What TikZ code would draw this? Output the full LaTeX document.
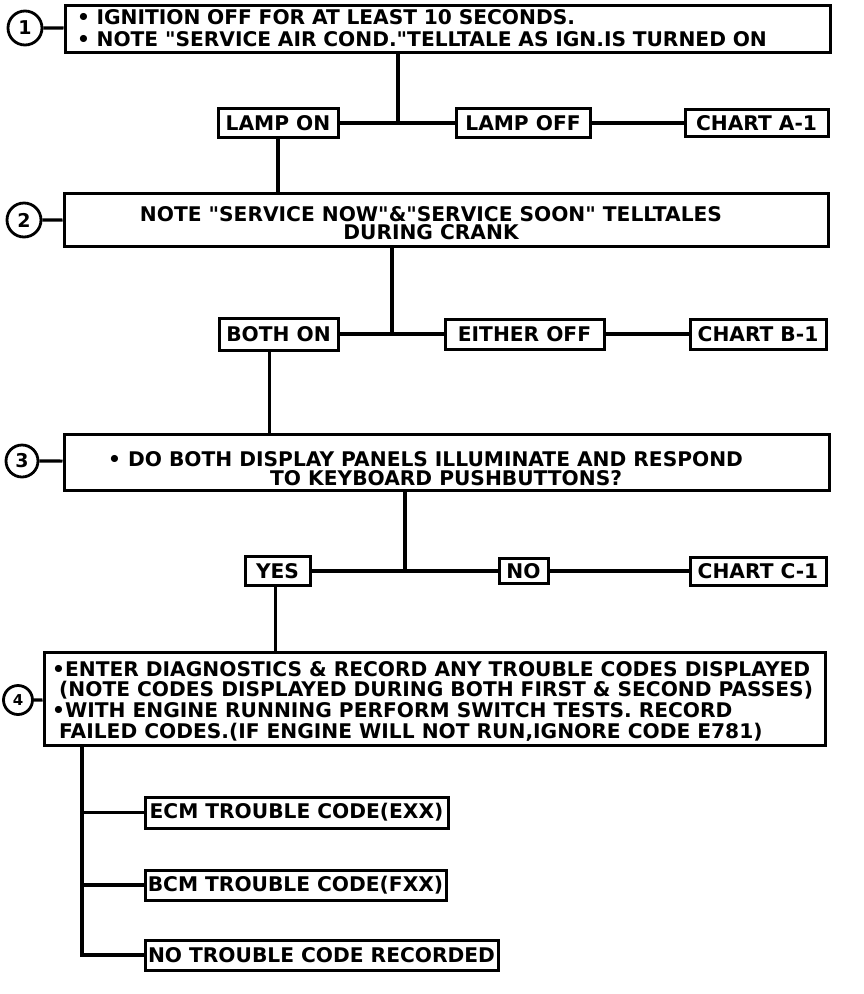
\documentclass[tikz,border=0pt]{standalone}
\usepackage{fontspec}
\setmainfont{DejaVu Sans}[Ligatures=TeXOff]
\begin{document}
\begin{tikzpicture}[x=1pt,y=-1pt,
  ln/.style={line width=3.2pt},
  txt/.style={font=\bfseries\fontsize{20.2}{22}\selectfont},
  box/.style={draw, line width=3pt, inner sep=0pt, txt},
  lbl/.style={inner sep=0pt, txt},
  stepc/.style={draw, circle, line width=2.8pt, inner sep=0pt, font=\bfseries\fontsize{19}{19}\selectfont}]
\useasboundingbox (0,0) rectangle (864,994);

% step circles
\node[stepc, minimum size=34pt] (c1) at (25,28) {1};
\node[stepc, minimum size=34pt] (c2) at (24,220) {2};
\node[stepc, minimum size=32pt] (c3) at (22,461) {3};
\node[stepc, minimum size=29pt, font=\bfseries\fontsize{15}{15}\selectfont] (c4) at (18,700) {4};

% main boxes
\node[box, minimum width=765pt, minimum height=47pt, text width=741pt, align=left] (b1) at (447.5,28.5)
  {• IGNITION OFF FOR AT LEAST 10 SECONDS.\\• NOTE "SERVICE AIR COND."TELLTALE AS IGN.IS TURNED ON};
\node[box, minimum width=764pt, minimum height=53pt] (b2) at (446,219.5) {};
\node[lbl, align=center, font=\bfseries\fontsize{20.2}{18.5}\selectfont] (b2t) at (431,223)
  {NOTE "SERVICE NOW"\&"SERVICE SOON" TELLTALES\\DURING CRANK};
\node[box, minimum width=765pt, minimum height=56pt] (b3) at (446.5,462) {};
\node[lbl, anchor=west, align=left, font=\bfseries\fontsize{20.2}{18.5}\selectfont] (b3t) at (108,468.5)
  {• DO BOTH DISPLAY PANELS ILLUMINATE AND RESPOND\\\hspace*{162pt}TO KEYBOARD PUSHBUTTONS?};
\node[box, minimum width=781pt, minimum height=93pt] (b4) at (434.5,698.5) {};
\node[lbl, anchor=west, align=left, font=\bfseries\fontsize{20.2}{20.7}\selectfont] (b4t) at (52,701)
  {•ENTER DIAGNOSTICS \& RECORD ANY TROUBLE CODES DISPLAYED\\
   \ (NOTE CODES DISPLAYED DURING BOTH FIRST \& SECOND PASSES)\\
   •WITH ENGINE RUNNING PERFORM SWITCH TESTS. RECORD\\
   \ FAILED CODES.(IF ENGINE WILL NOT RUN,IGNORE CODE E781)};

% row 1
\node[box, minimum width=120pt, minimum height=29pt] (lampon) at (278,123) {LAMP ON};
\node[box, minimum width=134pt, minimum height=29pt] (lampoff) at (523,123) {LAMP OFF};
\node[box, minimum width=143pt, minimum height=27pt] (charta) at (756.5,123) {CHART A-1};
% row 2
\node[box, minimum width=119pt, minimum height=32pt] (bothon) at (278.5,334) {BOTH ON};
\node[box, minimum width=159pt, minimum height=30pt] (eitheroff) at (524.5,334) {EITHER OFF};
\node[box, minimum width=136pt, minimum height=30pt] (chartb) at (758,334) {CHART B-1};
% row 3
\node[box, minimum width=65pt, minimum height=29pt] (yes) at (277.5,571) {YES};
\node[box, minimum width=49pt, minimum height=25pt] (no) at (523.5,571) {NO};
\node[box, minimum width=136pt, minimum height=28pt] (chartc) at (758,571) {CHART C-1};
% results
\node[box, minimum width=303pt, minimum height=31pt] (ecm) at (296.5,812.5) {ECM TROUBLE CODE(EXX)};
\node[box, minimum width=301pt, minimum height=30pt] (bcm) at (295.5,885) {BCM TROUBLE CODE(FXX)};
\node[box, minimum width=353pt, minimum height=30pt] (notc) at (321.5,955) {NO TROUBLE CODE RECORDED};

% junction coordinates
\coordinate (j1) at (398,123);
\coordinate (j2) at (392,334);
\coordinate (j3) at (405,571);
\coordinate (bus) at (82,955);

% connectors
\draw[ln] (c1) -- (b1);
\draw[ln] (c2) -- (b2);
\draw[ln] (c3) -- (b3);
\draw[ln] (c4) -- (b4);

\draw[ln] (b1.south -| j1) -- (j1);
\draw[ln] (lampon) -- (lampoff);
\draw[ln] (lampoff) -- (charta);
\draw[ln] (lampon.south) -- (lampon.south |- b2.north);

\draw[ln] (b2.south -| j2) -- (j2);
\draw[ln] (bothon) -- (eitheroff);
\draw[ln] (eitheroff) -- (chartb);
\draw[ln] ([xshift=-9pt]bothon.south) -- ([xshift=-9pt]bothon.south |- b3.north);

\draw[ln] (b3.south -| j3) -- (j3);
\draw[ln] (yes) -- (no);
\draw[ln] (no) -- (chartc);
\draw[ln] ([xshift=-2pt]yes.south) -- ([xshift=-2pt]yes.south |- b4.north);

\draw[ln] (b4.south -| bus) -- (bus) -- (notc.west);
\draw[ln] (ecm.west -| bus) -- (ecm.west);
\draw[ln] (bcm.west -| bus) -- (bcm.west);
\end{tikzpicture}
\end{document}
